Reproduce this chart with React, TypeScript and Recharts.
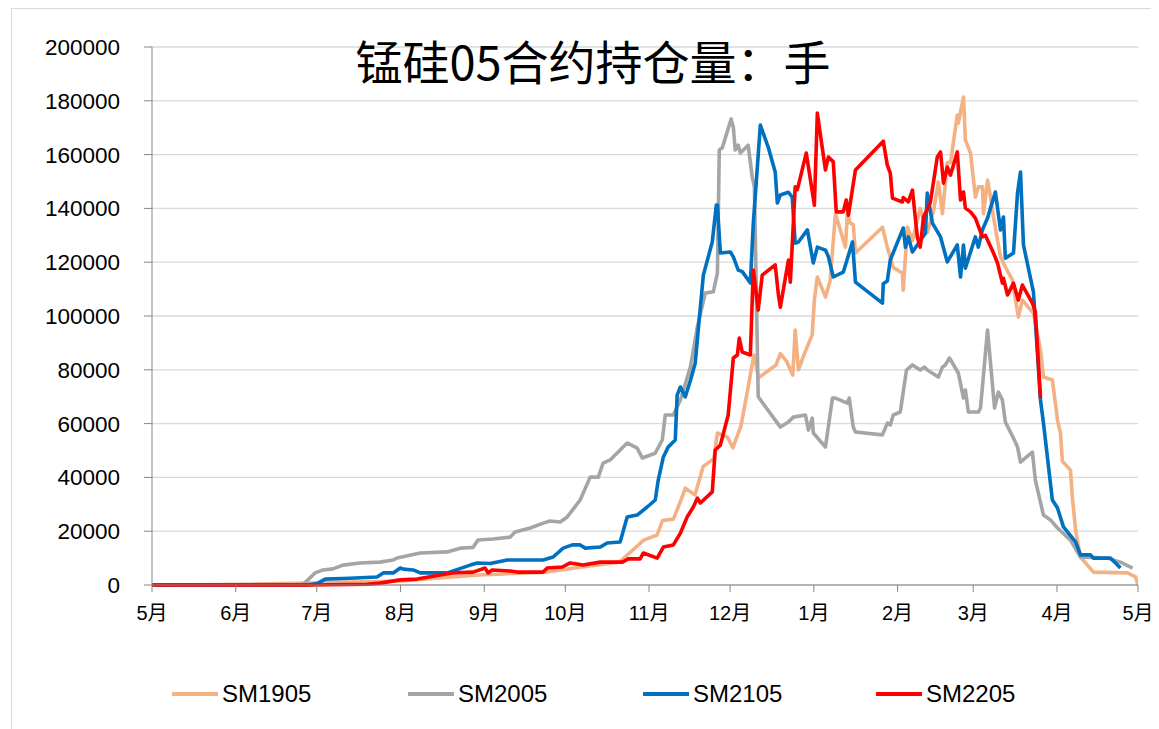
import React from 'react';
import { LineChart, Line, XAxis, YAxis, CartesianGrid } from 'recharts';

const monthLabels = ['5月', '6月', '7月', '8月', '9月', '10月', '11月', '12月', '1月', '2月', '3月', '4月', '5月'];
const monthTicks = [0, 31, 61, 92, 123, 153, 184, 214, 245, 276, 304, 335, 365];
const yTicks = [0, 20000, 40000, 60000, 80000, 100000, 120000, 140000, 160000, 180000, 200000];

// [day since 1 May, open interest]
const sm1905: number[][] = [[0,0],[36,300],[62,800],[92,1500],[121,3700],[146,4800],[159,6700],[173,8500],[178,13000],[182,16700],[187,18600],[189,24000],[193,24500],[196,32000],[197.4,36000],[201,33500],[204,44000],[208,47000],[209.3,56500],[213,55000],[215,51000],[218,59000],[220.5,72500],[222.8,85500],[224.5,77000],[231,81800],[232.6,86000],[235,83000],[236.3,80000],[237.2,78000],[238.1,94800],[239.3,80000],[241.9,87000],[244.4,93000],[245.2,106000],[246.3,114500],[249.3,107000],[251,113000],[253,138000],[256.7,125600],[257.4,138000],[258.5,134500],[259.6,134000],[260.4,123400],[270.4,133000],[272.2,125600],[274.4,118000],[277.8,116000],[278.1,109600],[279.6,133000],[281.5,128000],[284.4,140000],[287,131000],[289.3,139000],[291.1,149800],[292.6,138000],[294.4,157000],[295.6,157000],[298.1,174700],[298.5,171700],[300.4,181400],[301.1,165400],[303,160600],[304.8,144200],[305.9,148000],[307.4,148000],[307.8,138000],[309.3,150500],[310.4,144200],[311.5,136800],[314.1,122000],[315.9,118200],[318.5,113400],[320.7,99600],[322.2,105900],[326.3,101000],[328.9,87300],[330,77300],[333.3,76200],[335.2,61300],[336.3,56500],[337,46000],[340,42700],[340.7,32700],[341.9,20400],[343.7,10400],[348.5,4800],[361.1,4500],[364.1,3000],[365,0]];

const sm2005: number[][] = [[0,0],[55,0],[56,300],[60.4,4500],[63.3,5600],[67,6000],[70.7,7400],[77,8200],[84.4,8500],[89.3,9300],[90.7,10000],[99.3,11900],[109.3,12300],[114.1,13700],[118.9,14000],[120.7,16700],[126.3,17100],[132.6,17800],[134.4,19700],[140,21200],[144.8,23000],[147.4,23800],[151.1,23400],[153.7,25300],[158.5,31600],[162.2,40100],[165.2,40100],[167,45300],[169.6,46500],[173.3,50200],[175.9,52800],[179.6,50900],[181.5,47200],[186.3,49000],[188.9,53900],[190,63200],[193,63200],[195.6,68800],[199.3,81000],[201.9,96000],[204.8,108500],[207.8,109000],[209.3,116000],[210,161700],[211.1,162500],[214.4,173200],[215.2,170200],[215.9,161700],[217,163500],[217.8,160600],[220.7,163500],[222.2,151600],[223,148000],[223.7,109600],[224.4,70000],[232.6,58700],[235.6,60600],[237.4,62400],[241.9,63200],[243,57600],[244.4,62000],[244.8,56500],[249.3,51300],[251.9,69500],[253,69500],[257.4,67600],[258.1,69500],[259.6,58700],[260.4,56900],[270.4,55800],[272.2,60200],[273.3,59500],[274.4,63200],[277,64300],[279.3,79900],[281.5,81800],[284.4,79900],[285.9,81000],[287,79900],[291.1,77300],[292.6,81000],[293.7,81800],[295.2,84400],[298.5,78800],[300.4,69500],[301.1,72500],[302.2,64300],[305.9,64300],[306.7,65800],[309.3,94800],[311.9,65800],[313.3,71700],[314.8,68800],[315.9,60600],[318.9,54600],[320.4,51300],[321.5,45700],[325.9,49400],[327,39000],[330,26000],[332.6,24200],[335.2,21200],[340,16700],[343.7,10400],[353.7,10000],[358.5,8500],[363,6300]];

const sm2105: number[][] = [[0,0],[57.4,0],[61.1,500],[64.1,2200],[73.3,2500],[83.3,3000],[85.6,4500],[89.3,4500],[91.9,6300],[93,5900],[96.7,5600],[99.3,4500],[109.3,4500],[117.8,7400],[120.4,8200],[125.2,8000],[131.5,9300],[144.8,9300],[148.5,10400],[152.2,13700],[155.6,14900],[158.5,14900],[160.4,13700],[165.9,14100],[168.5,15600],[173.3,16000],[175.9,25300],[179.6,26000],[183.3,29000],[186.3,31600],[187.4,39000],[189.3,47600],[191.1,51300],[193.7,53900],[194.4,70600],[195.6,73600],[197.4,69900],[199.3,76000],[201.1,82500],[202.2,94800],[204.1,115200],[207.4,127500],[208.9,141200],[209.3,141200],[210.4,123400],[214.1,123800],[215.2,122000],[217,117100],[218.5,116500],[221.5,112300],[222.6,134500],[225.2,171000],[228.1,162800],[230.7,153500],[231.5,142000],[232.6,145000],[235.6,146000],[237,144200],[238.1,127100],[239.3,127500],[242.6,132000],[244.8,119700],[246.3,125600],[249.3,124500],[250.4,122000],[252.2,114500],[255.9,116300],[259.3,127500],[260.4,112600],[270.4,104800],[270.7,112000],[272.2,113000],[273.3,120800],[278.1,132700],[278.9,125600],[280,129400],[281.5,123800],[286.3,130800],[287,145700],[288.9,134500],[291.9,129400],[294.4,120100],[298.1,126400],[299.3,114500],[300.4,126400],[301.1,117800],[304.8,129400],[305.9,125600],[307.4,132000],[309.3,136400],[312.2,146100],[314.1,132000],[315.2,136800],[315.9,121500],[318.9,123400],[320.4,145700],[321.5,153500],[322.6,126400],[326.3,108900],[328.9,68800],[330,60200],[333.3,31600],[335.2,28600],[337.4,21600],[341.9,16000],[343.7,11200],[347.4,11200],[348.5,10000],[354.8,10000],[356.7,8200],[358.5,6300]];

const sm2205: number[][] = [[0,0],[58.5,0],[79.6,300],[84.4,700],[91.9,1900],[98.1,2200],[106.7,3700],[111.5,4500],[118.9,4800],[123.3,6300],[124.4,4500],[125.9,5600],[132.6,5200],[135.2,4800],[144.8,4800],[146.3,6300],[151.9,6700],[154.8,8200],[159.6,7400],[165.9,8500],[174.1,8500],[176.3,9700],[180.7,9700],[181.9,11900],[187,10000],[189.3,14100],[193,14900],[195.6,19300],[198.1,25300],[200.4,29000],[201.9,32300],[203,30500],[207.4,34600],[208.5,50200],[210.4,52000],[213.3,63200],[215.2,84400],[216.7,85500],[217.4,91800],[218.5,86600],[221.5,85500],[222.2,106000],[222.6,117100],[224.4,102200],[225.9,115200],[230.7,119000],[231.9,107800],[232.6,103300],[235.6,120800],[236.3,112600],[238.1,148000],[238.9,147000],[242.2,160600],[245.2,141200],[246.3,175400],[249.3,154300],[250.4,159100],[252.2,157300],[253.3,138700],[255.9,138700],[257,143100],[257.8,137500],[260.4,154300],[270.7,165000],[272.2,156100],[273.3,153100],[274.1,143800],[277.8,142400],[278.1,144000],[280,142400],[281.5,146800],[283.3,129400],[284.4,125600],[285.6,136800],[288.1,142000],[290.7,159100],[291.9,161000],[293,149400],[294.4,155400],[295.6,152400],[298.1,161000],[299.3,143100],[300.4,146100],[301.1,140100],[303,138700],[304.8,136400],[307.4,129400],[308.5,130000],[311.5,123400],[313,119700],[314.8,112200],[315.2,114000],[316.7,107800],[318.9,112200],[320.7,105900],[322.2,111500],[325.9,104800],[327,101500],[328.9,69500]];

const seriesNames = ['SM1905', 'SM2005', 'SM2105', 'SM2205'];
const seriesColors = ['#F4B183', '#A5A5A5', '#0070C0', '#FF0000'];
const seriesData = [sm1905, sm2005, sm2105, sm2205].map((arr) => arr.map(([d, v]) => ({ d, v })));
const legendLeft = [164, 400, 635, 868];

const FONT = "'Liberation Sans', 'Noto Sans CJK SC', sans-serif";

export default function App() {
  return (
    <div style={{ position: 'relative', width: 1151, height: 721, fontFamily: FONT }}>
      <div style={{ position: 'absolute', left: 3, top: 0, width: 1160, height: 730, border: '1px solid #D9D9D9', boxSizing: 'border-box' }} />
      <LineChart width={1151} height={627} margin={{ top: 39, right: 21, left: 0, bottom: 0 }}>
        <CartesianGrid vertical={false} stroke="#D9D9D9" strokeWidth={1.3} />
        <XAxis
          type="number"
          dataKey="d"
          domain={[0, 365]}
          ticks={monthTicks}
          tickFormatter={(v: number) => monthLabels[monthTicks.indexOf(v)]}
          interval={0}
          height={50}
          stroke="#868686"
          tickSize={7}
          tickMargin={14}
          tick={{ fill: '#000', fontSize: 20, fontFamily: FONT }}
          allowDataOverflow
        />
        <YAxis
          type="number"
          domain={[0, 200000]}
          ticks={yTicks}
          interval={0}
          width={144}
          stroke="#868686"
          tickSize={8}
          tickMargin={24}
          tick={{ fill: '#000', fontSize: 22.5, fontFamily: FONT }}
        />
        {seriesData.map((data, i) => (
          <Line
            key={seriesNames[i]}
            data={data}
            dataKey="v"
            name={seriesNames[i]}
            type="linear"
            stroke={seriesColors[i]}
            strokeWidth={3.6}
            dot={false}
            activeDot={false}
            isAnimationActive={false}
            strokeLinejoin="round"
          />
        ))}
      </LineChart>
      <div style={{ position: 'absolute', left: 0, width: 1170, top: 28, textAlign: 'center', fontSize: 47, lineHeight: '47px', fontFamily: "'Noto Sans CJK SC', sans-serif", color: '#000' }}>
        锰硅05合约持仓量：手
      </div>
      {seriesNames.map((n, i) => (
        <div key={n} style={{ position: 'absolute', left: legendLeft[i], top: 671, height: 30, display: 'flex', alignItems: 'center' }}>
          <div style={{ width: 46, height: 4, background: seriesColors[i], marginRight: 4 }} />
          <span style={{ fontSize: 24, color: '#000', fontFamily: FONT }}>{n}</span>
        </div>
      ))}
    </div>
  );
}
